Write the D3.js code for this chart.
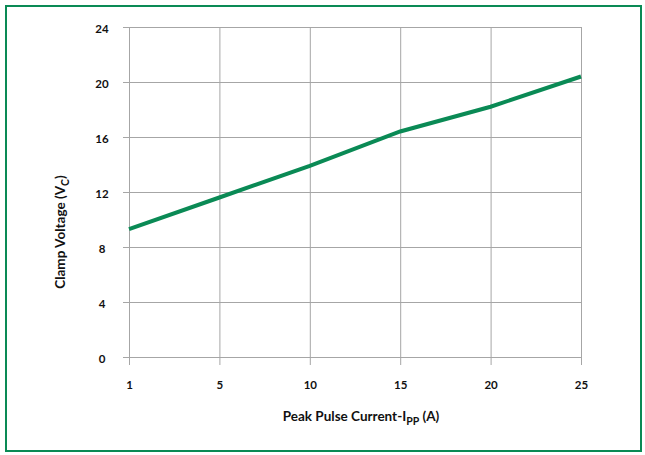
<!DOCTYPE html>
<html>
<head>
<meta charset="utf-8">
<script src="https://cdn.jsdelivr.net/npm/d3@7"></script>
<style>
  body { margin: 0; background: #fff; }
  svg { display: block; font-family: Lato, "Open Sans", sans-serif; font-weight: 700; }
</style>
</head>
<body>
<svg id="chart" width="645" height="455"></svg>
<script>
// x is categorical (evenly spaced), y is clamp voltage
const currents = ["1", "5", "10", "15", "20", "25"];
const clampVoltage = [9.3, 11.6, 13.9, 16.4, 18.2, 20.4];
const yTicks = [0, 4, 8, 12, 16, 20, 24];

const svg = d3.select("#chart");
const margin = { left: 129, right: 64, top: 27, bottom: 98 };
const width = 645, height = 455;

// outer green frame
svg.append("rect")
    .attr("x", 6).attr("y", 6)
    .attr("width", 635).attr("height", 445)
    .attr("fill", "none")
    .attr("stroke", "#0a8a55")
    .attr("stroke-width", 2);

const x = d3.scalePoint()
    .domain(currents)
    .range([margin.left, width - margin.right]);

const y = d3.scaleLinear()
    .domain([0, 24])
    .range([height - margin.bottom, margin.top]);

const grid = "#a6a6a6";

// horizontal grid + left ticks
const yAxis = svg.append("g")
    .attr("transform", `translate(${margin.left},0)`)
    .call(d3.axisLeft(y).tickValues(yTicks).tickSize(6).tickPadding(17));
yAxis.select(".domain").attr("stroke", grid);
yAxis.selectAll(".tick line").attr("stroke", grid);
yAxis.selectAll(".tick").append("line")
    .attr("x1", 0).attr("x2", width - margin.right - margin.left)
    .attr("stroke", grid);
yAxis.selectAll(".tick text")
    .attr("font-size", 11.5).attr("fill", "#111")
    .attr("text-anchor", "middle").attr("dx", -4).attr("dy", "0.45em")
    .attr("font-family", "Lato, sans-serif").attr("font-weight", 700);

// vertical grid + bottom ticks
const xAxis = svg.append("g")
    .attr("transform", `translate(0,${height - margin.bottom})`)
    .call(d3.axisBottom(x).tickSize(8).tickPadding(16));
xAxis.select(".domain").attr("stroke", grid);
xAxis.selectAll(".tick line").attr("stroke", grid);
xAxis.selectAll(".tick").append("line")
    .attr("y1", 0).attr("y2", -(height - margin.bottom - margin.top))
    .attr("stroke", grid);
xAxis.selectAll(".tick text")
    .attr("font-size", 11.5).attr("fill", "#111")
    .attr("font-family", "Lato, sans-serif").attr("font-weight", 700);

// data line
const line = d3.line()
    .x((d, i) => x(currents[i]))
    .y(d => y(d));

svg.append("path")
    .datum(clampVoltage)
    .attr("fill", "none")
    .attr("stroke", "#0a8a55")
    .attr("stroke-width", 4)
    .attr("d", line);

// axis titles
const xt = svg.append("text")
    .attr("x", 361).attr("y", 421)
    .attr("text-anchor", "middle")
    .attr("font-size", 13.5).attr("fill", "#111");
xt.append("tspan").text("Peak Pulse Current-I");
xt.append("tspan").attr("font-size", 10.5).attr("dy", 4).text("PP");
xt.append("tspan").attr("dy", -4).text(" (A)");

const yt = svg.append("text")
    .attr("transform", "translate(65,232) rotate(-90)")
    .attr("text-anchor", "middle")
    .attr("font-size", 13.5).attr("fill", "#111");
yt.append("tspan").text("Clamp Voltage (V");
yt.append("tspan").attr("font-size", 10.5).attr("dy", 4).text("C");
yt.append("tspan").attr("dy", -4).text(")");
</script>
</body>
</html>
